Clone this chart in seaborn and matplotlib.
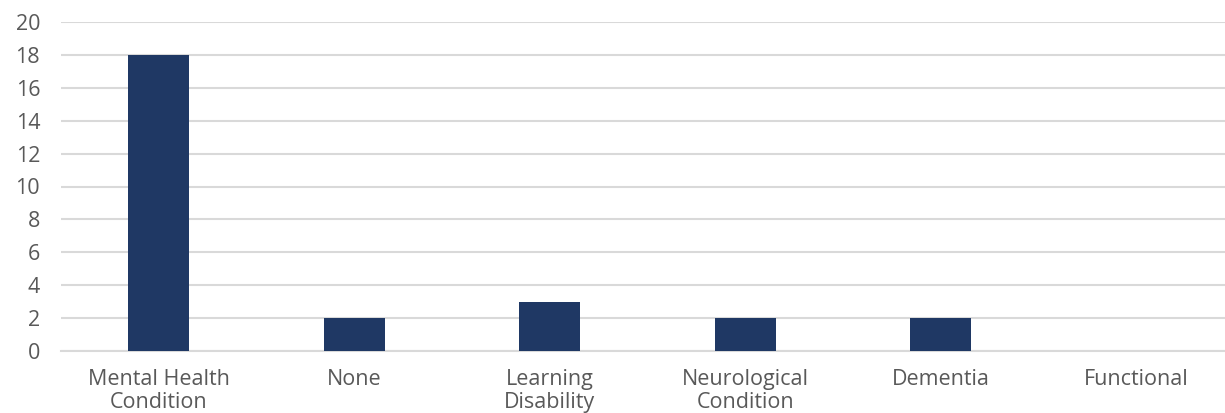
import matplotlib
matplotlib.use("Agg")
import matplotlib.pyplot as plt
import seaborn as sns
import pandas as pd

categories = ["Mental Health\nCondition", "None", "Learning\nDisability",
              "Neurological\nCondition", "Dementia", "Functional"]
counts = [18, 2, 3, 2, 2, 0]
y_ticks = [0, 2, 4, 6, 8, 10, 12, 14, 16, 18, 20]

sns.set_theme(style="white")
plt.rcParams["font.family"] = ["Open Sans", "DejaVu Sans"]

df = pd.DataFrame({"category": categories, "count": counts})

fig = plt.figure(figsize=(12.25, 4.13), dpi=100)
ax = fig.add_axes([61 / 1225, 62 / 413, 1173 / 1225, 329 / 413])

sns.barplot(data=df, x="category", y="count", color="#1F3864",
            width=0.31, saturation=1, linewidth=0, ax=ax, zorder=3)

ax.set_ylim(0, 20)
ax.set_yticks(y_ticks)
ax.set_xlim(-0.5, len(categories) - 0.5)
ax.yaxis.grid(True, color="#d9d9d9", linewidth=1.5, zorder=0)
ax.set_axisbelow(True)
for side in ["top", "right", "left"]:
    ax.spines[side].set_visible(False)
ax.spines["bottom"].set_color("#d9d9d9")
ax.spines["bottom"].set_linewidth(1.5)
ax.set_xlabel("")
ax.set_ylabel("")
ax.tick_params(axis="both", length=0, colors="#595959", labelsize=15.5)
ax.tick_params(axis="y", pad=15)
ax.tick_params(axis="x", pad=13)
for lbl in ax.get_yticklabels():
    lbl.set_horizontalalignment("right")
for lbl in ax.get_xticklabels():
    lbl.set_linespacing(1.15)

fig.savefig("out.png", dpi=100)
